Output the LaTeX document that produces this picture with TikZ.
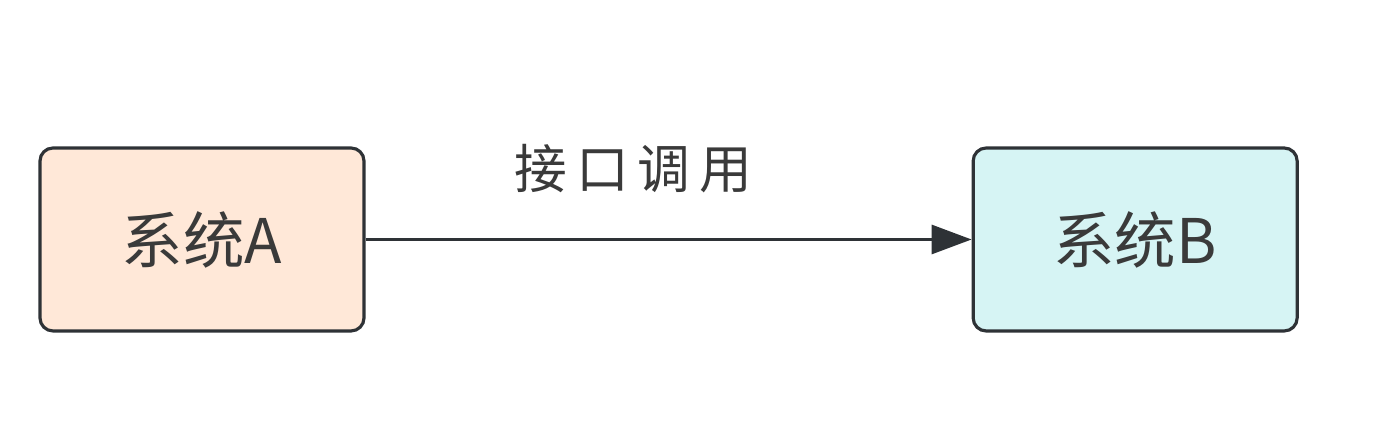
\documentclass[tikz,border=0pt]{standalone}
\usepackage{fontspec}
\newfontfamily\cjk{Noto Sans CJK SC}
\usetikzlibrary{arrows.meta, positioning}
\definecolor{peach}{HTML}{FFE8D8}
\definecolor{aqua}{HTML}{D6F4F4}
\definecolor{edgegray}{HTML}{2E3236}
\definecolor{textgray}{HTML}{3A3A3A}

\begin{document}
\begin{tikzpicture}[
		node distance=2cm and 6.06cm,
		every node/.style={font=\cjk\fontsize{15}{18}\selectfont, text=textgray},
		sys/.style={draw=edgegray, line width=0.9pt, rounded corners=1.3mm, minimum width=3.24cm, minimum height=1.83cm, font=\cjk\fontsize{17.5}{20}\selectfont},
		call/.style={-{Triangle[length=4mm, width=2.9mm]}, line width=0.9pt, edgegray},
		]
		\useasboundingbox (0,0) rectangle (13.8,4.34);
		% systems
		\node[sys, fill=peach] at (2.02,1.945) (sysA) {系统A};
		\node[sys, fill=aqua, right = of sysA] (sysB) {系统B};
		% call
		\draw[call] (sysA) -- (sysB) node[midway, above=3.3mm, xshift=-3.5mm] (callLabel) {接\,口\,调\,用};
	\end{tikzpicture}
\end{document}
